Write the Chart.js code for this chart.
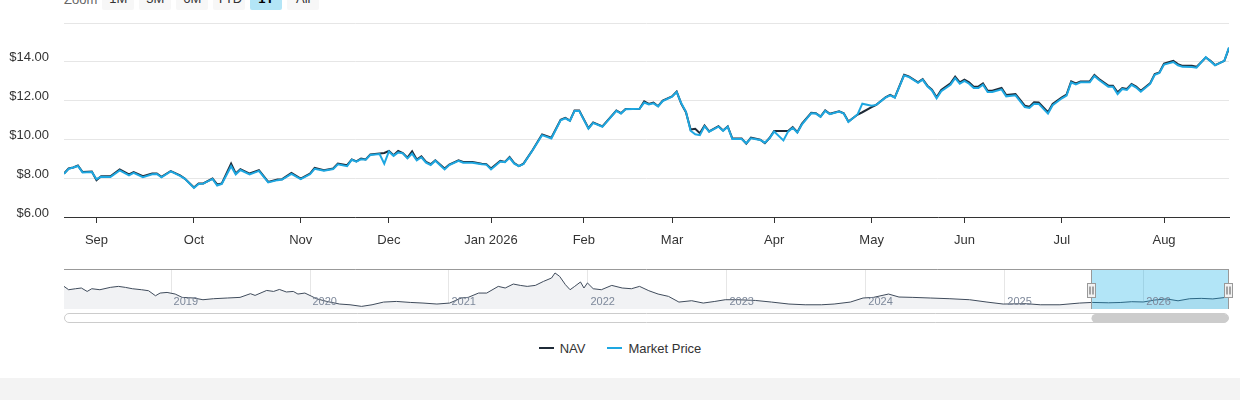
<!DOCTYPE html>
<html>
<head>
<meta charset="utf-8">
<script src="https://cdn.jsdelivr.net/npm/chart.js@4.4.1/dist/chart.umd.min.js"></script>
<style>
body { margin: 0; background: #fff; font-family: "Liberation Sans", Arial, sans-serif; }
#page { position: relative; width: 1240px; height: 400px; overflow: hidden; }
#zoomBar { position: absolute; left: 64px; top: -12px; height: 22px; display: flex; align-items: center; font-size: 13px; }
#zoomBar .lbl { color: #666; margin-right: 5px; }
#zoomBar .btn { width: 32px; height: 22px; line-height: 22px; text-align: center; margin-right: 5px; background: #f7f7f7; color: #333; border-radius: 2px; }
#zoomBar .btn.on { background: #b3e5f6; color: #000; font-weight: bold; }
#mainBox { position: absolute; left: 0; top: 0; }
#navBox { position: absolute; left: 0; top: 262px; }
#legend { position: absolute; left: 0; top: 339px; width: 1240px; height: 18px; display: flex; justify-content: center; align-items: center; font-size: 13px; color: #333; }
#legend .sym { display: inline-block; width: 15px; height: 2px; margin-right: 6px; }
#legend .item { display: flex; align-items: center; margin: 0 11px; }
#footer { position: absolute; left: 0; top: 378px; width: 1240px; height: 22px; background: #f3f3f3; }
</style>
</head>
<body>
<div id="page">
  <div id="zoomBar"></div>
  <div id="mainBox"><canvas id="mainChart" width="1240" height="260"></canvas></div>
  <div id="navBox"><canvas id="navChart" width="1240" height="66"></canvas></div>
  <div id="legend"></div>
  <div id="footer"></div>
</div>
<script>
// range selector buttons
const zoomButtons = ['1M', '3M', '6M', 'YTD', '1Y', 'All'];
const zoomSelected = '1Y';

// main chart: x = trading day index (0 = Aug 21 2025)
const monthTicks = [7, 28, 51, 70, 92, 112, 131, 153, 174, 194, 215, 237];
const monthLabels = ['Sep', 'Oct', 'Nov', 'Dec', 'Jan 2026', 'Feb', 'Mar', 'Apr', 'May', 'Jun', 'Jul', 'Aug'];
const priceTicks = [6, 8, 10, 12, 14, 16];

const navDays = [
  0, 1, 2, 3, 4, 6, 7, 8, 10, 12, 14, 15, 17, 19, 20, 21, 23, 25, 26, 28, 29, 30, 32, 33, 34, 36, 37, 38, 40, 42,
  44, 46, 47, 49, 51, 53, 54, 56, 58, 59, 61, 62, 63, 64,
  65, 66, 68, 69, 70, 71, 72, 73, 74, 75, 76, 77, 78, 79, 80, 82, 83, 85, 86, 88, 90, 91, 92, 94, 95, 96, 97, 98, 99,
  101, 103, 105, 107, 108, 109, 110, 111, 113, 114, 116, 119, 120, 121, 124, 125, 126, 127, 128, 129, 131, 132, 133,
  134, 135, 136, 137, 138, 139, 141, 142, 143, 144, 146, 147, 148, 150, 151, 152, 153, 155, 156, 157, 158, 159,
  161, 162, 163, 164, 165, 167, 168, 169, 171, 172, 174, 175, 177, 178, 179, 181, 182, 184, 185, 186, 187, 188, 189,
  191, 192, 193, 194, 195, 196, 197, 198, 199, 200, 202, 203, 205, 207, 208, 209, 210, 212, 213,
  215, 216, 217, 218, 219, 221, 222, 223, 225, 226, 227, 228, 229, 230, 231, 232, 234, 235, 236, 237, 239, 240, 241,
  243, 244, 246, 247, 248, 250, 251
];

const navPrice = [
  8.24, 8.50, 8.55, 8.65, 8.32, 8.34, 7.90, 8.10, 8.10, 8.45, 8.20, 8.31, 8.10, 8.24, 8.24, 8.07, 8.37, 8.15, 7.98, 7.52,
  7.73, 7.73, 7.98, 7.68, 7.73, 8.75, 8.24, 8.46, 8.24, 8.41, 7.81, 7.93, 7.95, 8.27, 7.98, 8.24, 8.53, 8.41, 8.50, 8.75,
  8.67, 8.97, 8.87, 9.01,
  8.97, 9.22, 9.27, 9.30, 9.40, 9.18, 9.40, 9.30, 9.06, 9.38, 8.96, 9.13, 8.84, 8.72, 8.92, 8.50, 8.70, 8.92, 8.84, 8.84,
  8.75, 8.72, 8.50, 8.89, 8.84, 9.09, 8.78, 8.62, 8.75,
  9.47, 10.26, 10.09, 11.01, 11.11, 10.97, 11.49, 11.49, 10.58, 10.87, 10.67, 11.49, 11.35, 11.57, 11.58,
  11.96, 11.83, 11.90, 11.71, 12.00, 12.21, 12.46, 11.83, 11.40, 10.51, 10.55, 10.32, 10.72, 10.41, 10.68,
  10.46, 10.67, 10.04, 10.04, 9.78, 10.09, 9.98, 9.81, 10.07, 10.43, 10.43, 10.43, 10.63, 10.37, 10.81,
  11.37, 11.35, 11.18, 11.49, 11.32, 11.45, 11.35, 10.92, 11.28, 11.40, 11.66, 11.78, 12.17, 12.29, 12.17,
  13.33, 13.25, 12.94, 13.11, 12.77, 12.56, 12.17, 12.55, 12.89, 13.23, 12.94, 13.08, 12.94, 12.72, 12.72,
  12.89, 12.51, 12.51, 12.65, 12.29, 12.34, 11.74, 11.69, 11.91, 11.90, 11.40, 11.83,
  12.17, 12.31, 12.99, 12.89, 12.99, 12.99, 13.32, 13.11, 12.77, 12.77, 12.43, 12.65, 12.60, 12.86, 12.72,
  12.51, 12.89, 13.37, 13.45, 13.91, 14.05, 13.88, 13.79, 13.79, 13.74, 14.22, 14.05, 13.83, 14.05, 14.70
];

const marketPrice = [
  8.22, 8.48, 8.55, 8.63, 8.30, 8.32, 7.95, 8.08, 8.06, 8.40, 8.15, 8.28, 8.05, 8.20, 8.22, 8.05, 8.35, 8.12, 7.98, 7.50,
  7.70, 7.72, 7.96, 7.62, 7.70, 8.62, 8.20, 8.42, 8.20, 8.38, 7.78, 7.90, 7.93, 8.22, 7.95, 8.20, 8.48, 8.38, 8.47, 8.72,
  8.62, 8.95, 8.85, 8.98,
  8.95, 9.20, 9.25, 8.75, 9.38, 9.15, 9.33, 9.28, 9.02, 9.27, 8.92, 9.08, 8.80, 8.68, 8.90, 8.45, 8.68, 8.90, 8.80, 8.80,
  8.72, 8.70, 8.45, 8.86, 8.82, 9.05, 8.75, 8.62, 8.73,
  9.45, 10.22, 10.05, 10.98, 11.08, 10.95, 11.47, 11.47, 10.55, 10.85, 10.65, 11.47, 11.33, 11.55, 11.58,
  11.90, 11.80, 11.86, 11.70, 11.98, 12.20, 12.44, 11.86, 11.42, 10.45, 10.26, 10.22, 10.68, 10.40, 10.66,
  10.44, 10.65, 10.02, 10.02, 9.80, 10.06, 9.97, 9.83, 10.05, 10.40, 9.95, 10.40, 10.60, 10.35, 10.78,
  11.35, 11.33, 11.16, 11.47, 11.30, 11.43, 11.33, 10.90, 11.30, 11.84, 11.73, 11.78, 12.15, 12.27, 12.15,
  13.30, 13.22, 12.92, 13.08, 12.74, 12.52, 12.12, 12.48, 12.82, 13.16, 12.87, 13.01, 12.87, 12.65, 12.65,
  12.82, 12.44, 12.44, 12.58, 12.22, 12.27, 11.67, 11.62, 11.84, 11.83, 11.33, 11.76,
  12.12, 12.26, 12.94, 12.84, 12.94, 12.94, 13.27, 13.06, 12.72, 12.72, 12.34, 12.60, 12.55, 12.81, 12.67,
  12.46, 12.86, 13.33, 13.42, 13.86, 13.99, 13.82, 13.74, 13.73, 13.70, 14.24, 14.03, 13.82, 14.05, 14.74
];

// navigator: x = months since Jan 2018
const yearTicks = [12, 24, 36, 48, 60, 72, 84, 96];
const yearLabels = ['2019', '2020', '2021', '2022', '2023', '2024', '2025', '2026'];
const navHistMonths = [
  2.8, 3.2, 3.8, 4.3, 4.8, 5.2, 5.9, 6.8, 7.5, 8.1, 8.7, 9.5, 10.1, 10.7, 11.1, 11.7, 12.4, 13.0, 14.0, 14.8,
  15.7, 16.9, 18.0, 18.9, 19.3, 20.3, 20.9, 21.4, 22.0, 22.6, 23.0, 23.6, 24.2, 24.6, 25.5, 26.6, 27.5, 28.5, 29.4, 30.4,
  31.5, 32.7, 33.8, 35.0, 36.1,
  37.1, 37.7, 38.6, 39.3, 40.3, 40.9, 41.6, 42.2, 42.8, 43.5, 44.2, 44.9, 45.2, 45.6, 46.1, 46.5, 46.9, 47.4, 47.7, 48.0,
  48.5, 49.2, 50.1, 51.0, 51.8, 52.5, 53.3, 54.1, 55.0, 55.9, 57.0, 58.0, 59.0, 59.9, 61.0, 62.5, 63.9, 65.4, 66.8, 68.2,
  69.3,
  70.7, 71.8, 72.7, 74.0, 74.9, 76.1, 77.6, 79.3, 81.0, 82.5, 83.9, 85.9, 87.1, 88.8, 90.5, 91.6, 93.0, 94.0, 95.0, 96.0,
  97.0, 98.0, 99.0, 100.0, 101.0, 102.0, 103.0, 103.4
];
const navHistValues = [
  26.1, 22.4, 23.5, 24.3, 20.5, 23.5, 22.4, 25.0, 26.1, 25.0, 23.5, 22.4, 21.3, 15.7, 18.7, 19.4, 17.6, 13.9, 13.2, 11.3,
  12.4, 13.2, 13.9, 18.0, 16.1, 21.6, 20.5, 22.7, 19.9, 20.5, 17.6, 18.7, 15.0, 12.4, 9.4, 6.5, 5.7, 3.9, 5.7, 8.7,
  9.4, 8.3, 7.6, 6.5, 7.6,
  13.2, 13.9, 18.7, 18.7, 26.1, 24.3, 28.7, 27.2, 26.1, 27.2, 31.6, 35.4, 41.0, 37.2, 28.0, 22.4, 26.1, 31.0, 24.3, 29.9,
  23.5, 22.4, 27.2, 24.3, 23.5, 26.1, 21.3, 17.6, 15.0, 8.7, 10.2, 7.6, 9.4, 11.3, 11.3, 10.5, 8.7, 6.5, 5.7, 5.7,
  6.5,
  8.7, 13.2, 13.9, 17.6, 14.3, 13.9, 13.2, 12.4, 11.3, 8.7, 6.5, 6.9, 5.7, 5.7, 7.6, 8.3, 7.9, 8.2, 9.1, 8.8,
  11.0, 12.2, 10.1, 12.4, 12.8, 12.2, 13.7, 14.7
];
const selStart = 91.5;
const selEnd = 103.4;

const seriesNames = ['NAV', 'Market Price'];
const navColor = '#1f2b38';
const marketColor = '#1ea7e1';

Chart.defaults.font.family = '"Liberation Sans", Arial, sans-serif';
Chart.defaults.font.size = 13;

// range selector
const zoomBar = document.getElementById('zoomBar');
zoomBar.innerHTML = '<span class="lbl">Zoom</span>' +
  zoomButtons.map(b => `<span class="btn${b === zoomSelected ? ' on' : ''}">${b}</span>`).join('');

// main price chart
new Chart(document.getElementById('mainChart'), {
  type: 'line',
  data: {
    datasets: [
      {
        label: seriesNames[0],
        data: navDays.map((d, i) => ({ x: d, y: navPrice[i] })),
        borderColor: navColor,
        borderWidth: 2,
        pointRadius: 0,
        tension: 0,
        order: 1
      },
      {
        label: seriesNames[1],
        data: navDays.map((d, i) => ({ x: d, y: marketPrice[i] })),
        borderColor: marketColor,
        borderWidth: 2,
        pointRadius: 0,
        tension: 0,
        order: 0
      }
    ]
  },
  options: {
    responsive: false,
    animation: false,
    layout: { padding: { top: 23, right: 11, left: 0, bottom: 0 } },
    plugins: { legend: { display: false }, tooltip: { enabled: false } },
    scales: {
      x: {
        type: 'linear',
        min: navDays[0],
        max: navDays[navDays.length - 1],
        afterBuildTicks: s => { s.ticks = monthTicks.map(v => ({ value: v })); },
        afterFit: s => { s.height = 43; },
        grid: { drawOnChartArea: false, drawTicks: true, tickLength: 6, color: '#333' },
        border: { display: true, color: '#333', width: 1 },
        ticks: {
          autoSkip: false,
          maxRotation: 0,
          padding: 10,
          color: '#333',
          callback: (v, i) => monthLabels[i]
        }
      },
      y: {
        min: priceTicks[0],
        max: priceTicks[priceTicks.length - 1],
        afterBuildTicks: s => { s.ticks = priceTicks.map(v => ({ value: v })); },
        afterFit: s => { s.width = 64; },
        grid: { color: '#e6e6e6', drawTicks: false },
        border: { display: false },
        ticks: {
          padding: 15,
          labelOffset: -4,
          color: '#333',
          callback: v => v === priceTicks[priceTicks.length - 1] ? '' : '$' + v.toFixed(2)
        }
      }
    }
  }
});

// navigator extras: year grid, mask, outline, handles, scrollbar
const navigatorDecor = {
  id: 'navigatorDecor',
  beforeDatasetsDraw(chart) {
    const { ctx, chartArea: a, scales: { x } } = chart;
    ctx.save();
    ctx.strokeStyle = '#e6e6e6';
    ctx.lineWidth = 1;
    yearTicks.forEach(t => {
      const px = Math.round(x.getPixelForValue(t)) + 0.5;
      ctx.beginPath();
      ctx.moveTo(px, a.top);
      ctx.lineTo(px, a.bottom);
      ctx.stroke();
    });
    ctx.restore();
  },
  afterDatasetsDraw(chart) {
    const { ctx, chartArea: a, scales: { x } } = chart;
    const x1 = Math.round(x.getPixelForValue(selStart)) + 0.5;
    const x2 = Math.round(x.getPixelForValue(selEnd)) - 0.5;
    ctx.save();
    // selected range mask
    ctx.fillStyle = 'rgba(0,170,230,0.3)';
    ctx.fillRect(x1, a.top, x2 - x1, a.bottom - a.top);
    // year labels
    ctx.fillStyle = '#7d889a';
    ctx.font = '11px "Liberation Sans", Arial, sans-serif';
    ctx.textBaseline = 'middle';
    yearTicks.forEach((t, i) => {
      ctx.fillText(yearLabels[i], x.getPixelForValue(t) + 3, a.bottom - 7);
    });
    // outline
    ctx.strokeStyle = '#999';
    ctx.lineWidth = 1;
    ctx.beginPath();
    ctx.moveTo(a.left, a.top + 0.5);
    ctx.lineTo(a.right, a.top + 0.5);
    ctx.moveTo(x1, a.top);
    ctx.lineTo(x1, a.bottom);
    ctx.moveTo(x2, a.top);
    ctx.lineTo(x2, a.bottom);
    ctx.stroke();
    // handles
    [x1, x2].forEach(hx => {
      const hy = a.top + 14.5;
      ctx.fillStyle = '#f2f2f2';
      ctx.fillRect(hx - 4, hy, 8, 14);
      ctx.strokeStyle = '#999';
      ctx.strokeRect(hx - 4, hy, 8, 14);
      ctx.strokeStyle = '#555';
      ctx.beginPath();
      ctx.moveTo(hx - 1.5, hy + 3);
      ctx.lineTo(hx - 1.5, hy + 11);
      ctx.moveTo(hx + 1.5, hy + 3);
      ctx.lineTo(hx + 1.5, hy + 11);
      ctx.stroke();
    });
    // scrollbar
    const sy = a.bottom + 4.5;
    const sh = 9;
    ctx.beginPath();
    ctx.roundRect(a.left + 0.5, sy, a.right - a.left - 1, sh, 4.5);
    ctx.fillStyle = '#fff';
    ctx.fill();
    ctx.strokeStyle = '#ccc';
    ctx.stroke();
    ctx.beginPath();
    ctx.roundRect(x1, sy + 0.5, x2 - x1, sh - 0.5, 4.5);
    ctx.fillStyle = '#cccccc';
    ctx.fill();
    ctx.restore();
  }
};

new Chart(document.getElementById('navChart'), {
  type: 'line',
  data: {
    datasets: [{
      label: seriesNames[0],
      data: navHistMonths.map((m, i) => ({ x: m, y: navHistValues[i] })),
      borderColor: '#3f4b5b',
      borderWidth: 1,
      backgroundColor: '#f1f2f4',
      fill: 'start',
      pointRadius: 0,
      tension: 0
    }]
  },
  options: {
    responsive: false,
    animation: false,
    layout: { padding: { top: 7, right: 11, left: 64, bottom: 19 } },
    plugins: { legend: { display: false }, tooltip: { enabled: false } },
    scales: {
      x: { type: 'linear', display: false, min: navHistMonths[0], max: navHistMonths[navHistMonths.length - 1] },
      y: { display: false, min: 1, max: 45.4 }
    }
  },
  plugins: [navigatorDecor]
});

// legend
const legend = document.getElementById('legend');
legend.innerHTML = seriesNames.map((n, i) =>
  `<span class="item"><span class="sym" style="background:${i === 0 ? navColor : marketColor}"></span>${n}</span>`
).join('');
</script>
</body>
</html>
